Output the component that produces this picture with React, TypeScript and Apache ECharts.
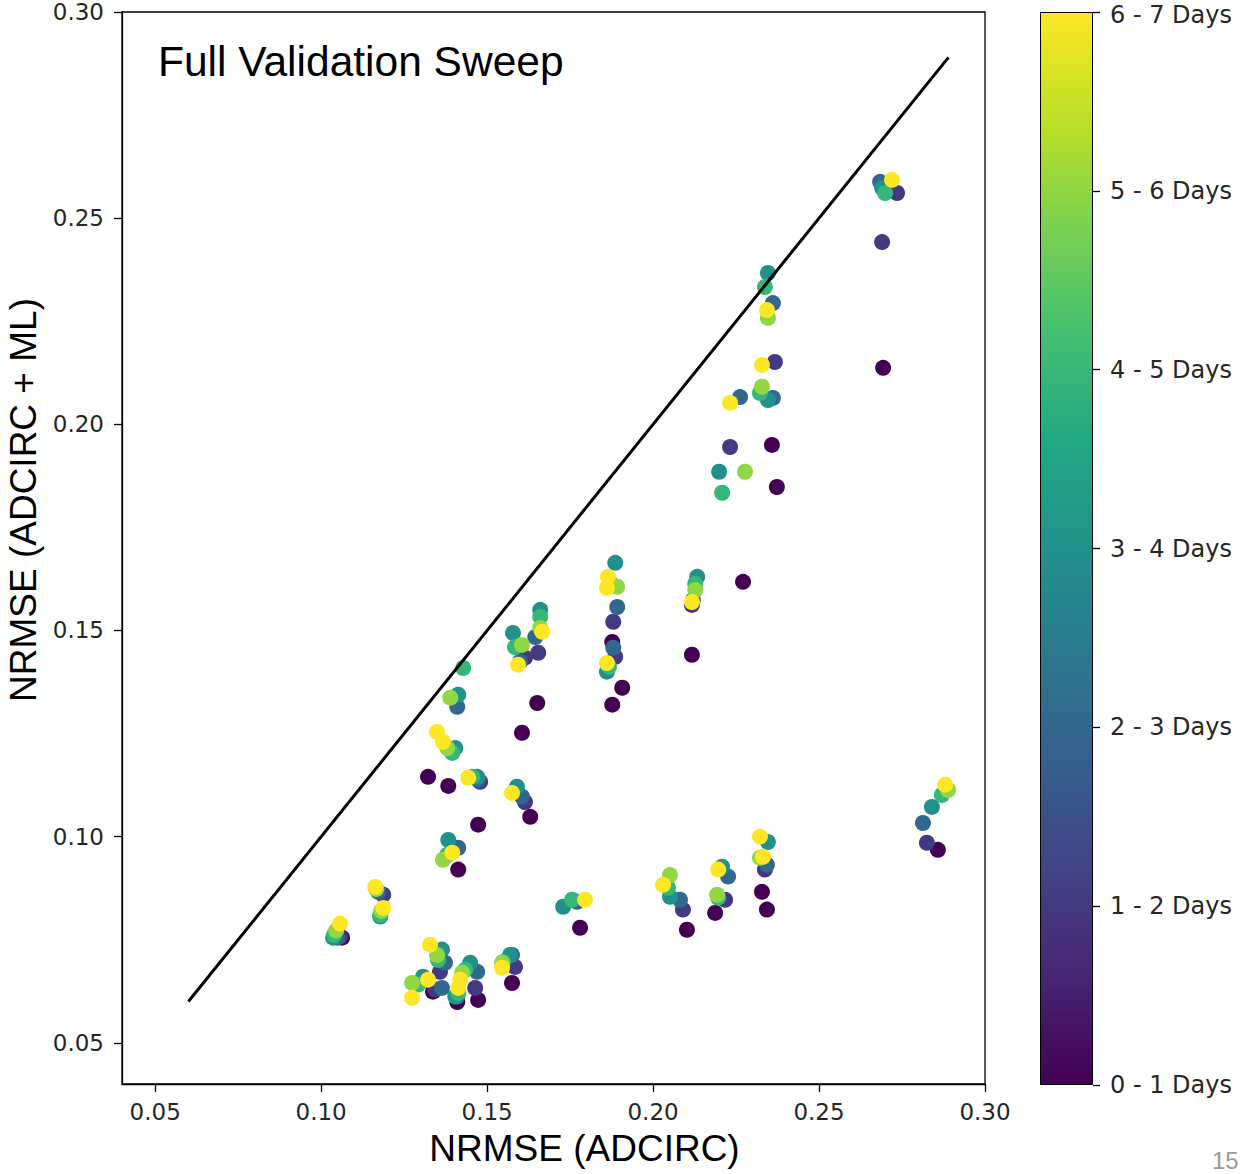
import React, { useEffect, useRef } from "react";
import * as echarts from "echarts";

// Lead-time bins (colour bar labels)
const dayLabels = ["0 - 1 Days", "1 - 2 Days", "2 - 3 Days", "3 - 4 Days", "4 - 5 Days", "5 - 6 Days", "6 - 7 Days"];

// Axis ticks
const xTicks = [0.05, 0.1, 0.15, 0.2, 0.25, 0.3];
const yTicks = [0.05, 0.1, 0.15, 0.2, 0.25, 0.3];

// Reference line y = x
const identityLine = [0.06, 0.289];

// Slide page number visible at the corner of the picture
const pageNumber = "15";

// [NRMSE (ADCIRC), NRMSE (ADCIRC + ML)] per lead-time bin
const day0: [number, number][] = [
  [0.1063, 0.0755], [0.1337, 0.0624], [0.141, 0.0599], [0.1473, 0.0604], [0.1575, 0.0645],
  [0.1322, 0.1145], [0.1383, 0.1123], [0.1473, 0.1029], [0.1413, 0.092], [0.163, 0.1048],
  [0.1605, 0.1252], [0.1651, 0.1324], [0.1877, 0.1472], [0.1907, 0.1361], [0.1877, 0.132],
  [0.178, 0.0779], [0.2102, 0.0774], [0.2187, 0.0815], [0.2328, 0.0866], [0.2343, 0.0823],
  [0.2117, 0.1441], [0.2271, 0.1618], [0.2358, 0.195], [0.2373, 0.1848], [0.2693, 0.2137],
  [0.2858, 0.0968],
];
const day1: [number, number][] = [
  [0.1057, 0.0757], [0.1187, 0.0859], [0.1358, 0.0672], [0.1343, 0.0629], [0.1464, 0.0633],
  [0.1584, 0.0684], [0.1479, 0.1133], [0.1614, 0.1084], [0.1614, 0.1434], [0.1654, 0.1446],
  [0.188, 0.1521], [0.1886, 0.1436], [0.209, 0.0823], [0.2217, 0.0847], [0.2337, 0.092],
  [0.2367, 0.2151], [0.2232, 0.1945], [0.269, 0.2442], [0.2825, 0.0985], [0.2117, 0.1562],
  [0.2735, 0.2561],
];
const day2: [number, number][] = [
  [0.1048, 0.0755], [0.1172, 0.0866], [0.1373, 0.0694], [0.1364, 0.0633], [0.147, 0.0672],
  [0.141, 0.0612], [0.1575, 0.0713], [0.1473, 0.1138], [0.1605, 0.1097], [0.1413, 0.0973],
  [0.141, 0.1315], [0.1599, 0.1424], [0.1645, 0.1484], [0.1892, 0.1557], [0.188, 0.1458],
  [0.1771, 0.0842], [0.2081, 0.0847], [0.2226, 0.0903], [0.2343, 0.0932], [0.2262, 0.2066],
  [0.2361, 0.2294], [0.2361, 0.2064], [0.212, 0.1574], [0.2684, 0.2588], [0.2813, 0.1033],
];
const day3: [number, number][] = [
  [0.1036, 0.0755], [0.1178, 0.0806], [0.1364, 0.0726], [0.1307, 0.066], [0.1449, 0.0694],
  [0.1404, 0.0612], [0.1569, 0.0713], [0.147, 0.1145], [0.159, 0.1121], [0.1383, 0.0992],
  [0.1404, 0.1215], [0.1413, 0.1344], [0.1578, 0.1494], [0.166, 0.155], [0.1886, 0.1664],
  [0.1861, 0.14], [0.1729, 0.083], [0.2051, 0.0854], [0.2208, 0.0927], [0.2346, 0.0987],
  [0.2346, 0.2367], [0.2346, 0.2059], [0.2199, 0.1885], [0.2133, 0.163], [0.269, 0.2573],
  [0.284, 0.1072],
];
const day4: [number, number][] = [
  [0.1039, 0.0762], [0.1178, 0.081], [0.1352, 0.0701], [0.1292, 0.0641], [0.1434, 0.0677],
  [0.1413, 0.0621], [0.1548, 0.0696], [0.1455, 0.1145], [0.138, 0.0956], [0.1395, 0.1203],
  [0.1428, 0.1409], [0.1584, 0.146], [0.166, 0.1533], [0.1877, 0.1611], [0.1867, 0.1412],
  [0.1756, 0.0847], [0.2045, 0.0876], [0.2196, 0.0852], [0.2337, 0.2333], [0.2322, 0.2076],
  [0.2208, 0.1834], [0.2127, 0.1613], [0.2699, 0.2561], [0.287, 0.1101],
];
const day5: [number, number][] = [
  [0.1045, 0.0772], [0.1181, 0.082], [0.1166, 0.0873], [0.1349, 0.0713], [0.1274, 0.0645],
  [0.1425, 0.067], [0.1545, 0.0694], [0.1367, 0.0944], [0.1389, 0.1337], [0.1605, 0.1465],
  [0.166, 0.1506], [0.1892, 0.1606], [0.2051, 0.0907], [0.2193, 0.0859], [0.2322, 0.0949],
  [0.2346, 0.2258], [0.2328, 0.2091], [0.2277, 0.1885], [0.2127, 0.1598], [0.2889, 0.1113],
  [0.138, 0.1215],
];
const day6: [number, number][] = [
  [0.1057, 0.0789], [0.1163, 0.0878], [0.1187, 0.0827], [0.1328, 0.0738], [0.1274, 0.0609],
  [0.1322, 0.0653], [0.1419, 0.0653], [0.1413, 0.0633], [0.1545, 0.0682], [0.1443, 0.1143],
  [0.1575, 0.1106], [0.1395, 0.0961], [0.1349, 0.1254], [0.1367, 0.123], [0.1593, 0.1417],
  [0.1666, 0.1497], [0.1864, 0.163], [0.1861, 0.1603], [0.1861, 0.1421], [0.1795, 0.0847],
  [0.203, 0.0883], [0.2196, 0.092], [0.2322, 0.1], [0.2331, 0.0951], [0.2343, 0.2277],
  [0.2328, 0.2144], [0.2232, 0.2052], [0.2117, 0.1569], [0.272, 0.2593], [0.288, 0.1126],
];

const daySeries = [day0, day1, day2, day3, day4, day5, day6];

// viridis colours (one per bin) and gradient stops for the colour bar
const binColors = ["#440154", "#443983", "#31688e", "#21918c", "#35b779", "#90d743", "#fde725"];
const viridisStops = ["#440154", "#482475", "#414487", "#355f8d", "#2a788e", "#21918c", "#22a884", "#44bf70", "#7ad151", "#bddf26", "#fde725"];

const TICK_FONT = "DejaVu Sans";
const LABEL_FONT = "Liberation Sans";

export default function App() {
  const ref = useRef<HTMLDivElement>(null);

  useEffect(() => {
    if (!ref.current) return;
    const chart = echarts.init(ref.current, null, { renderer: "svg" });

    const gradient = new echarts.graphic.LinearGradient(
      0, 1, 0, 0,
      viridisStops.map((c, i) => ({ offset: i / (viridisStops.length - 1), color: c }))
    );

    const scatterSeries = daySeries.map((pts, i) => ({
      type: "scatter",
      name: dayLabels[i],
      xAxisIndex: 0,
      yAxisIndex: 0,
      data: pts,
      symbol: "circle",
      symbolSize: 16,
      itemStyle: { color: binColors[i], opacity: 1 },
      silent: true,
      z: 2,
    }));

    const lastBin = dayLabels.length - 1;

    const option: any = {
      animation: false,
      backgroundColor: "#ffffff",
      textStyle: { fontFamily: TICK_FONT },
      grid: [
        { left: 122, top: 12, width: 863, height: 1072, show: true, borderColor: "#000", borderWidth: 1.3, backgroundColor: "transparent", containLabel: false, outerBoundsMode: "none" },
        { left: 1040, top: 12, width: 53, height: 1073, show: false, containLabel: false, outerBoundsMode: "none" },
      ],
      xAxis: [
        {
          type: "value",
          gridIndex: 0,
          min: 0.04,
          max: 0.3,
          name: "NRMSE (ADCIRC)",
          nameLocation: "middle",
          nameGap: 46,
          nameTextStyle: { fontFamily: LABEL_FONT, fontSize: 37, color: "#000", padding: [0, 0, 0, 62] },
          axisLine: { show: true, onZero: false, lineStyle: { color: "#000", width: 1.3 } },
          axisTick: { show: true, length: 8, lineStyle: { color: "#000", width: 1.3 }, customValues: xTicks },
          axisLabel: { customValues: xTicks, formatter: (v: number) => Number(v).toFixed(2), fontSize: 23, color: "#262626", margin: 16, fontFamily: TICK_FONT },
          splitLine: { show: false },
        },
        { type: "category", gridIndex: 1, data: ["colorbar"], show: false, boundaryGap: true },
      ],
      yAxis: [
        {
          type: "value",
          gridIndex: 0,
          min: 0.04,
          max: 0.3,
          name: "NRMSE (ADCIRC + ML)",
          nameLocation: "middle",
          nameGap: 72,
          nameTextStyle: { fontFamily: LABEL_FONT, fontSize: 37, color: "#000", padding: [0, 0, 0, 96] },
          axisLine: { show: true, onZero: false, lineStyle: { color: "#000", width: 1.3 } },
          axisTick: { show: true, length: 8, lineStyle: { color: "#000", width: 1.3 }, customValues: yTicks },
          axisLabel: { customValues: yTicks, formatter: (v: number) => Number(v).toFixed(2), fontSize: 23, color: "#262626", margin: 18, fontFamily: TICK_FONT },
          splitLine: { show: false },
        },
        {
          type: "value",
          gridIndex: 1,
          min: 0,
          max: lastBin,
          interval: 1,
          position: "right",
          axisLine: { show: false },
          axisTick: { show: true, length: 7, lineStyle: { color: "#000", width: 1.3 } },
          axisLabel: {
            formatter: (v: number) => {
              const i = Math.round(v);
              const t = dayLabels[i] ?? "";
              return i === lastBin ? `{top|${t}}` : t;
            },
            rich: {
              top: { fontSize: 24, lineHeight: 22, padding: [5, 0, 0, 0], color: "#262626", fontFamily: TICK_FONT },
            },
            fontSize: 24,
            lineHeight: 22,
            color: "#262626",
            margin: 17,
            fontFamily: TICK_FONT,
            showMinLabel: true,
            showMaxLabel: true,
          },
          splitLine: { show: false },
        },
      ],
      graphic: [
        {
          type: "text",
          left: 158,
          top: 40,
          style: { text: "Full Validation Sweep", fontSize: 42.5, fontFamily: LABEL_FONT, fill: "#000" },
          z: 10,
        },
        {
          type: "text",
          x: 1212,
          y: 1149,
          style: { text: pageNumber, fontSize: 24, lineHeight: 22, fontFamily: LABEL_FONT, fill: "#9a9a9a" },
          z: 10,
        },
      ],
      series: [
        ...scatterSeries,
        {
          type: "line",
          xAxisIndex: 0,
          yAxisIndex: 0,
          data: [
            [identityLine[0], identityLine[0]],
            [identityLine[1], identityLine[1]],
          ],
          symbol: "none",
          lineStyle: { color: "#000", width: 3 },
          silent: true,
          z: 5,
        },
        {
          type: "bar",
          xAxisIndex: 1,
          yAxisIndex: 1,
          data: [lastBin],
          barWidth: "100%",
          itemStyle: { color: gradient, borderColor: "#000", borderWidth: 1 },
          silent: true,
        },
      ],
    };

    chart.setOption(option);
    return () => chart.dispose();
  }, []);

  return (
    <div
      ref={ref}
      style={{ position: "fixed", left: 0, top: 0, width: 1241, height: 1174, background: "#fff" }}
    />
  );
}
